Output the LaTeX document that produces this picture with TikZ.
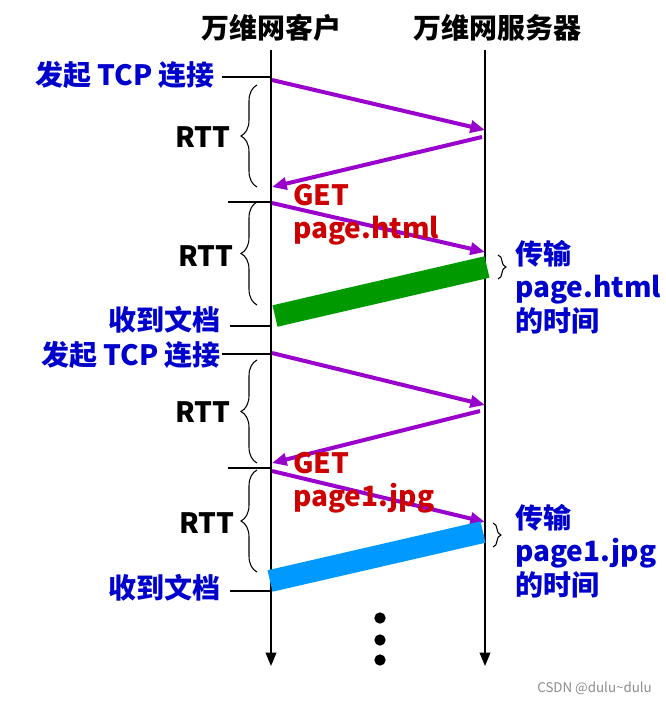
\documentclass[tikz,border=0pt]{standalone}
\usepackage{fontspec}
\setmainfont{Noto Sans CJK SC}
\usetikzlibrary{arrows.meta,decorations.pathreplacing}
\definecolor{purp}{HTML}{9900CC}
\definecolor{bartgreen}{HTML}{009900}
\definecolor{barblue}{HTML}{0099FF}
\definecolor{txtblue}{HTML}{0000CC}
\definecolor{txtred}{HTML}{CC0000}
\begin{document}
\begin{tikzpicture}[x=0.75pt,y=-0.75pt,
  lbl/.style={font=\bfseries\fontsize{21}{25}\selectfont, inner sep=0pt},
  bluelbl/.style={lbl, text=txtblue, align=left},
  redlbl/.style={lbl, text=txtred, align=left},
  timeline/.style={draw=black, line width=1.1pt, -{Triangle[length=10pt,width=8pt]}},
  tick/.style={draw=black, line width=1.1pt},
  msg/.style={draw=purp, line width=3pt, -{Triangle[length=11pt,width=9pt]}},
  bar/.style={line width=16.5pt, line cap=butt},
  lbrace/.style={draw=black, line width=0.8pt, decorate, decoration={brace, mirror, amplitude=12pt}},
  rbrace/.style={draw=black, line width=0.8pt, decorate, decoration={brace, amplitude=6pt}},
  dotmark/.style={fill=black, circle, inner sep=0pt, minimum size=8.5pt}
]
\useasboundingbox (0,0) rectangle (666,703);
% titles
\node[lbl] (tc) at (271,28) {万维网客户};
\node[lbl] (ts) at (497,28) {万维网服务器};
% timelines
\coordinate (ctop) at (271,50);
\coordinate (cbot) at (271,666);
\coordinate (stop) at (485,50);
\coordinate (sbot) at (485,666);
\draw[timeline] (ctop) -- (cbot);
\draw[timeline] (stop) -- (sbot);
% tick lines and labels
\coordinate (t1a) at (222,77); \coordinate (t1b) at (271,77);
\coordinate (t2a) at (228,202); \coordinate (t2b) at (271,202);
\coordinate (t3a) at (230,326); \coordinate (t3b) at (271,326);
\coordinate (t4a) at (222,354); \coordinate (t4b) at (271,354);
\coordinate (t5a) at (228,468); \coordinate (t5b) at (271,468);
\coordinate (t6a) at (230,591); \coordinate (t6b) at (271,591);
\foreach \i in {1,...,6} { \draw[tick] (t\i a) -- (t\i b); }
\node[bluelbl, anchor=east] (l1) at (215,75) {发起 TCP 连接};
\node[bluelbl, anchor=east] (l2) at (221,320) {收到文档};
\node[bluelbl, anchor=east] (l3) at (221,355) {发起 TCP 连接};
\node[bluelbl, anchor=east] (l4) at (221,588) {收到文档};
% messages
\coordinate (m1a) at (272,80);  \coordinate (m1b) at (485,130);
\coordinate (m2a) at (482,137); \coordinate (m2b) at (272,187);
\coordinate (m3a) at (272,203); \coordinate (m3b) at (485,252);
\coordinate (m4a) at (272,353); \coordinate (m4b) at (485,405);
\coordinate (m5a) at (480,411); \coordinate (m5b) at (272,463);
\coordinate (m6a) at (272,471); \coordinate (m6b) at (485,522);
\draw[msg] (m1a) -- (m1b);
\draw[msg] (m2a) -- (m2b);
\draw[msg] (m3a) -- (m3b);
\draw[msg] (m4a) -- (m4b);
\draw[msg] (m5a) -- (m5b);
\draw[msg] (m6a) -- (m6b);
% data bars
\coordinate (g1) at (275,316); \coordinate (g2) at (487,267);
\coordinate (b1) at (270,581); \coordinate (b2) at (483,532);
\draw[bar, draw=bartgreen] (g1) -- (g2);
\draw[bar, draw=barblue] (b1) -- (b2);
% GET labels
\node[redlbl, anchor=west] (get1) at (293,215) {GET\\page.html};
\node[redlbl, anchor=west] (get2) at (293,483) {GET\\page1.jpg};
% RTT braces
\coordinate (r1a) at (257,85);  \coordinate (r1b) at (257,187);
\coordinate (r2a) at (257,202); \coordinate (r2b) at (257,305);
\coordinate (r3a) at (257,360); \coordinate (r3b) at (257,463);
\coordinate (r4a) at (257,470); \coordinate (r4b) at (257,572);
\draw[lbrace] (r1a) -- (r1b);
\draw[lbrace] (r2a) -- (r2b);
\draw[lbrace] (r3a) -- (r3b);
\draw[lbrace] (r4a) -- (r4b);
\node[lbl] (rtt1) at (203,137) {RTT};
\node[lbl] (rtt2) at (206,256) {RTT};
\node[lbl] (rtt3) at (203,412) {RTT};
\node[lbl] (rtt4) at (207,523) {RTT};
% transfer braces
\coordinate (s1a) at (498,255); \coordinate (s1b) at (498,279);
\coordinate (s2a) at (493,523); \coordinate (s2b) at (493,547);
\draw[rbrace] (s1a) -- (s1b);
\draw[rbrace] (s2a) -- (s2b);
\node[bluelbl, anchor=west] (tr1) at (515,287) {传输\\page.html\\的时间};
\node[bluelbl, anchor=west] (tr2) at (515,551) {传输\\page1.jpg\\的时间};
% dots
\node[dotmark] (d1) at (380,618) {};
\node[dotmark] (d2) at (380,640) {};
\node[dotmark] (d3) at (380,660) {};
% watermark
\node[inner sep=0pt, anchor=east, text=black!45, font=\fontsize{10}{12}\selectfont] (wm) at (652,688) {CSDN @dulu\textasciitilde dulu};
\end{tikzpicture}
\end{document}
